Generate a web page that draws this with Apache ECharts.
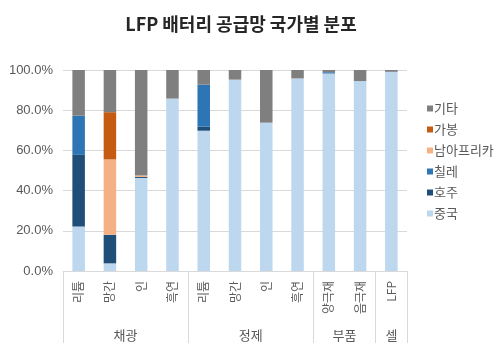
<!DOCTYPE html>
<html><head><meta charset="utf-8">
<script src="https://cdn.jsdelivr.net/npm/echarts@6/dist/echarts.min.js"></script>
<style>html,body{margin:0;padding:0;background:#fff}#c{width:500px;height:357px}</style>
</head><body><div id="c"></div>
<script>
const categories = ['리튬','망간','인','흑연','리튬','망간','인','흑연','양극재','음극재','LFP'];
const groups = ['채광','정제','부품','셀'];
const groupSizes = [4,4,2,1];
const yTicks = [0,20,40,60,80,100];
const china = [22.2, 3.8, 46.3, 85.8, 69.8, 95.2, 73.8, 95.8, 98.3, 94.5, 99.0];
const australia = [35.6, 14.2, 0.5, 0, 2.0, 0, 0, 0, 0.4, 0, 0.2];
const chile = [19.5, 0, 0, 0, 20.9, 0, 0, 0, 0.3, 0, 0];
const southAfrica = [0, 37.5, 0.7, 0, 0, 0, 0, 0, 0, 0, 0];
const gabon = [0, 23.5, 0, 0, 0, 0, 0, 0, 0, 0, 0];
const other = [22.7, 21.0, 52.5, 14.2, 7.3, 4.8, 26.2, 4.2, 1.0, 5.5, 0.8];

const seriesDefs = [
  {name:'중국', data:china, color:'#bdd7ee'},
  {name:'호주', data:australia, color:'#1f4e79'},
  {name:'칠레', data:chile, color:'#2e75b6'},
  {name:'남아프리카', data:southAfrica, color:'#f4b183'},
  {name:'가봉', data:gabon, color:'#c55a11'},
  {name:'기타', data:other, color:'#7f7f7f'}
];

const bounds = [0]; const centers = [];
groupSizes.forEach((s,i)=>{ centers.push(bounds[i] + s/2); bounds.push(bounds[i] + s); });

const FONT = '"Noto Sans CJK KR", sans-serif';
const chart = echarts.init(document.getElementById('c'), null, {renderer:'canvas'});
chart.setOption({
  animation:false,
  title:{text:'LFP 배터리 공급망 국가별 분포', left:236, textAlign:'center', top:10,
    textStyle:{fontFamily:FONT, fontSize:18, fontWeight:'bold', color:'#262626'}},
  legend:{orient:'vertical', left:422, top:97, itemWidth:6, itemHeight:6, itemGap:8,
    icon:'rect', data:['기타','가봉','남아프리카','칠레','호주','중국'],
    textStyle:{fontFamily:FONT, fontSize:13, color:'#595959', padding:[0,0,0,-4]}},
  grid:{left:63, right:93, top:70, bottom:86, containLabel:false},
  xAxis:[
    {type:'category', data:categories, position:'bottom',
      axisLine:{show:true, lineStyle:{color:'#d9d9d9'}}, axisTick:{show:false},
      axisLabel:{rotate:90, interval:0, margin:10, fontFamily:FONT, fontSize:12, color:'#595959'}},
    {type:'value', min:0, max:categories.length, position:'bottom', offset:0,
      axisLine:{show:false}, splitLine:{show:false},
      axisTick:{show:true, customValues:bounds, length:72, inside:false, lineStyle:{color:'#d9d9d9'}},
      axisLabel:{show:true, customValues:centers, margin:58, fontFamily:FONT, fontSize:13, color:'#595959',
        formatter:(v)=>{const i=centers.indexOf(v); return i>=0?groups[i]:'';}}}
  ],
  yAxis:{type:'value', min:yTicks[0], max:yTicks[yTicks.length-1], interval:20,
    axisLine:{show:false}, axisTick:{show:false},
    splitLine:{lineStyle:{color:'#d9d9d9'}},
    axisLabel:{formatter:(v)=>v.toFixed(1)+'%', fontFamily:'"Liberation Sans", sans-serif', fontSize:13, color:'#595959', margin:10}},
  series: seriesDefs.map(s=>({name:s.name, type:'bar', stack:'total', xAxisIndex:0,
    barWidth:'40%', data:s.data, itemStyle:{color:s.color}}))
});
</script></body></html>
